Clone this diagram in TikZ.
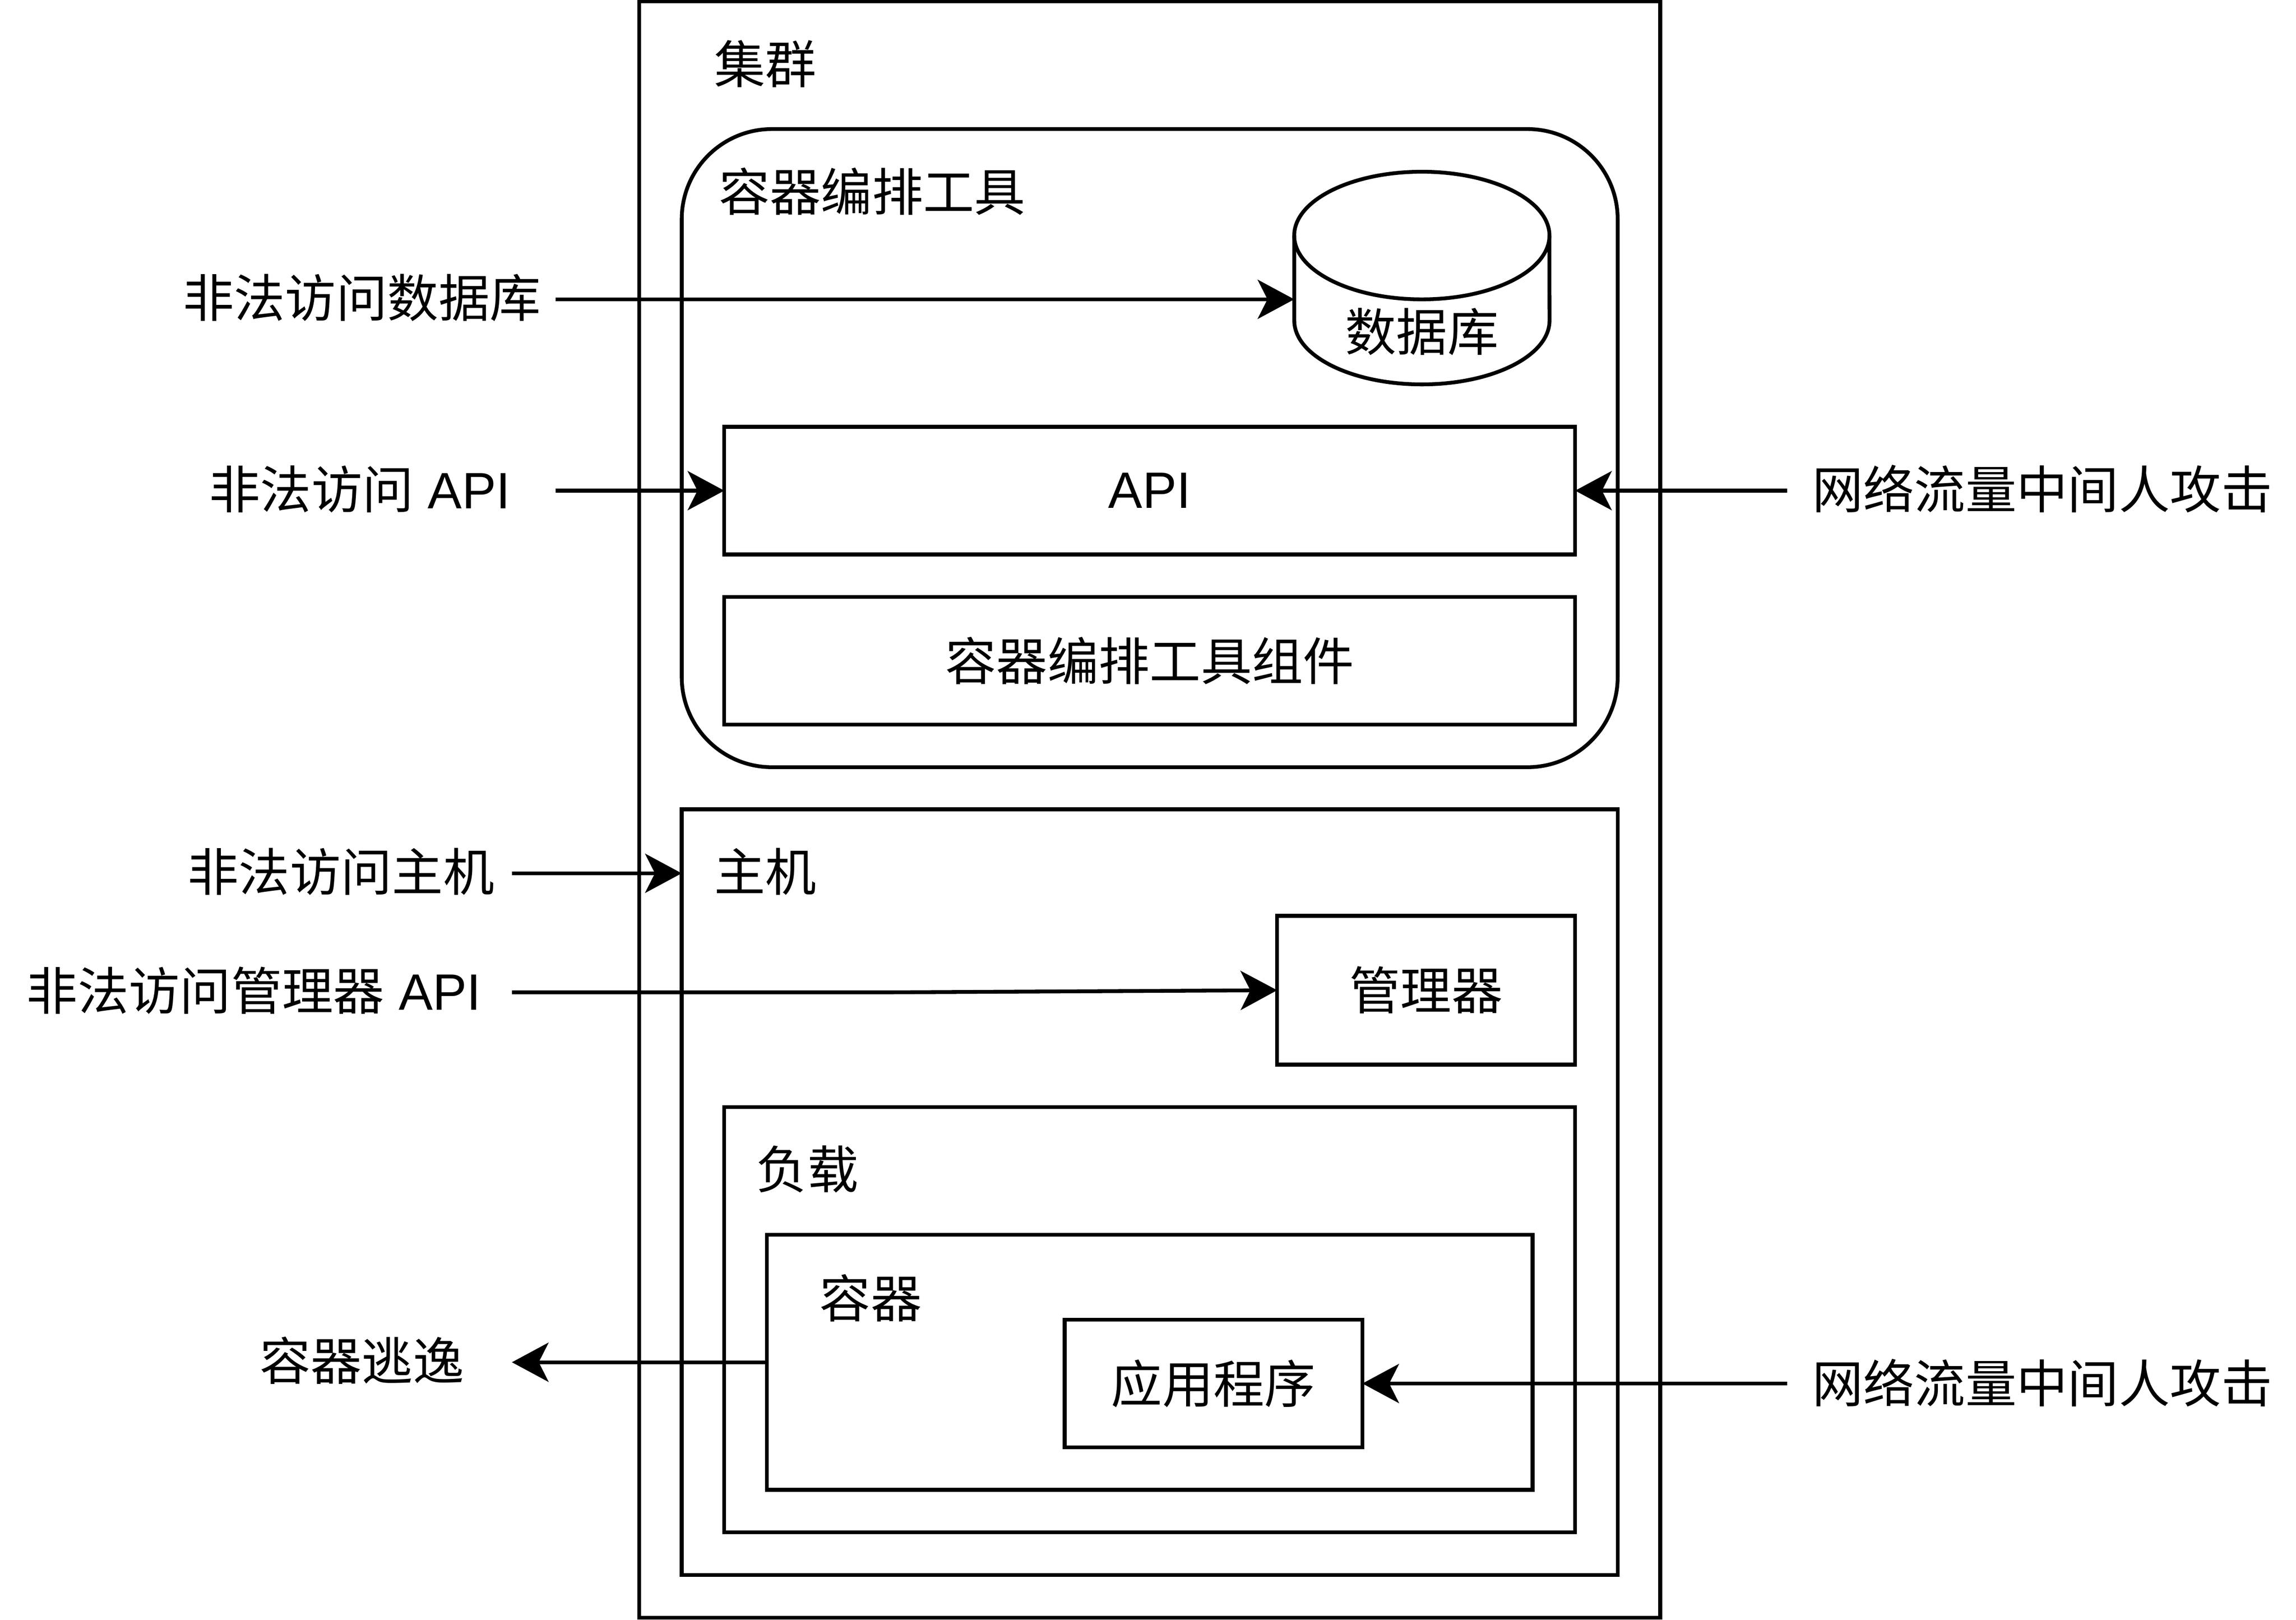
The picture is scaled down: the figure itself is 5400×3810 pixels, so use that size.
\documentclass[tikz,border=0pt]{standalone}
\usepackage{fontspec}
\setmainfont{Liberation Sans}
\newfontfamily\cjk{Noto Sans CJK SC}
\usetikzlibrary{arrows.meta}
\begin{document}
\begin{tikzpicture}[x=0.01cm, y=-0.01cm,
  every node/.style={font=\fontsize{34.2pt}{40pt}\selectfont, inner sep=0pt, outer sep=0pt},
  box/.style={draw, line width=2.55pt, rectangle},
  rbox/.style={box, rounded corners=2.12cm},
  lbl/.style={anchor=center},
  conn/.style={line width=2.55pt, -{Stealth[length=0.86cm, width=0.92cm, inset=0.23cm]}}]
\useasboundingbox (0,0) rectangle (5400,3810);

% containers
\node[box, minimum width=24cm, minimum height=38cm] (cluster) at (2704,1904) {};
\node[rbox, minimum width=22cm, minimum height=15cm] (orch) at (2704,1054) {};
\node[box, minimum width=20cm, minimum height=3cm] (api) at (2704,1154) {API};
\node[box, minimum width=20cm, minimum height=3cm] (comp) at (2704,1554) {\cjk 容器编排工具组件};
\node[box, minimum width=22cm, minimum height=18cm] (host) at (2704,2804) {};
\node[box, minimum width=7cm, minimum height=3.5cm] (mgr) at (3354,2329) {\cjk 管理器};
\node[box, minimum width=20cm, minimum height=10cm] (work) at (2704,3104) {};
\node[box, minimum width=18cm, minimum height=6cm] (cont) at (2704,3204) {};
\node[box, minimum width=7cm, minimum height=3cm] (app) at (2854,3254) {\cjk 应用程序};

% database cylinder
\draw[line width=2.55pt] (3344,554) ellipse [x radius=3cm, y radius=1.5cm];
\draw[line width=2.55pt] (3044,554) -- (3044,754) arc[start angle=180, end angle=360, x radius=3cm, y radius=1.5cm] -- (3644,554);
\coordinate (dbin) at (3044,704);
\node[lbl] (db) at (3344,780) {\cjk 数据库};

% titles
\node[lbl] (tcluster) at (1800,150) {\cjk 集群};
\node[lbl] (torch) at (2051,450) {\cjk 容器编排工具};
\node[lbl] (thost) at (1800,2050) {\cjk 主机};
\node[lbl] (twork) at (1899,2750) {\cjk 负载};
\node[lbl] (tcont) at (2048,3053) {\cjk 容器};

% outside labels
\node[lbl] (l1) at (851,700) {\cjk 非法访问数据库};
\node[lbl] (l2) at (846,1150) {{\cjk 非法访问} API};
\node[lbl] (l3) at (802,2050) {\cjk 非法访问主机};
\node[lbl] (l4) at (597,2330) {{\cjk 非法访问管理器} API};
\node[lbl] (l5) at (851,3200) {\cjk 容器逃逸};
\node[lbl] (r1) at (4803,1150) {\cjk 网络流量中间人攻击};
\node[lbl] (r2) at (4803,3252) {\cjk 网络流量中间人攻击};

\coordinate (s1) at (1307,704);
\coordinate (s2) at (1307,1154);
\coordinate (s3) at (1204,2054);
\coordinate (s4) at (1204,2334);
\coordinate (k4) at (2097,2334);
\coordinate (s5) at (1204,3204);
\coordinate (e1) at (4203,1154);
\coordinate (e2) at (4203,3254);

% connectors
\draw[conn] (s1) -- (dbin);
\draw[conn] (s2) -- (api.west);
\draw[conn] (e1) -- (api.east);
\draw[conn] (s3) -- (s3 -| host.west);
\draw[conn] (s4) -- (k4) -- (mgr.west);
\draw[conn] (cont.west) -- (s5);
\draw[conn] (e2) -- (app.east);
\end{tikzpicture}
\end{document}
